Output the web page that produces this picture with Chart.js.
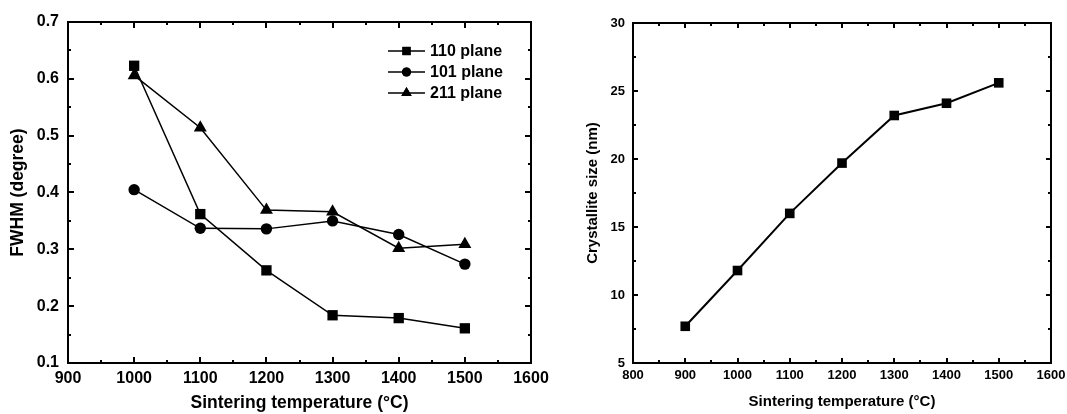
<!DOCTYPE html>
<html>
<head>
<meta charset="utf-8">
<script src="https://cdn.jsdelivr.net/npm/chart.js@4"></script>
<style>
html, body { margin: 0; padding: 0; background: #fff; }
#wrap { position: relative; width: 1067px; height: 414px; overflow: hidden; }
canvas { position: absolute; top: 0; }
</style>
</head>
<body>
<div id="wrap">
  <canvas id="fwhm" width="570" height="414" style="left:0"></canvas>
  <canvas id="size" width="527" height="414" style="left:540px"></canvas>
</div>
<script>
// left panel: FWHM vs sintering temperature
const temps = [1000, 1100, 1200, 1300, 1400, 1500];
const fwhm110 = [0.623, 0.362, 0.263, 0.184, 0.179, 0.161];
const fwhm101 = [0.405, 0.337, 0.336, 0.350, 0.326, 0.274];
const fwhm211 = [0.606, 0.514, 0.369, 0.366, 0.302, 0.309];
const planeNames = ['110 plane', '101 plane', '211 plane'];
const planeMarks = ['rect', 'circle', 'triangle'];

// right panel: crystallite size vs sintering temperature
const sizeTemps = [900, 1000, 1100, 1200, 1300, 1400, 1500];
const crystalliteSize = [7.7, 11.8, 16.0, 19.7, 23.2, 24.1, 25.6];

const FONT = '"Liberation Sans", Arial, sans-serif';

const toPts = (xs, ys) => xs.map((x, i) => ({x: x, y: ys[i]}));

// box round the plot with inward major + minor ticks on all four sides
const frameTicks = {
  id: 'frameTicks',
  afterDraw(chart, args, o) {
    const {ctx, chartArea: a, scales: {x, y}} = chart;
    ctx.save();
    ctx.strokeStyle = '#000';
    ctx.lineWidth = o.width;
    ctx.lineCap = 'butt';
    const minors = (sc) => {
      const t = sc.ticks.map(k => k.value), m = [];
      for (let i = 0; i < t.length - 1; i++) m.push((t[i] + t[i + 1]) / 2);
      return m;
    };
    ctx.beginPath();
    const xt = (v, len) => {
      const px = Math.round(x.getPixelForValue(v));
      ctx.moveTo(px, a.bottom); ctx.lineTo(px, a.bottom - len);
      ctx.moveTo(px, a.top); ctx.lineTo(px, a.top + len);
    };
    const yt = (v, len) => {
      const py = Math.round(y.getPixelForValue(v));
      ctx.moveTo(a.left, py); ctx.lineTo(a.left + len, py);
      ctx.moveTo(a.right, py); ctx.lineTo(a.right - len, py);
    };
    x.ticks.forEach(k => xt(k.value, o.major));
    minors(x).forEach(v => xt(v, o.minor));
    y.ticks.forEach(k => yt(k.value, o.major));
    minors(y).forEach(v => yt(v, o.minor));
    ctx.stroke();
    ctx.strokeRect(a.left, a.top, a.right - a.left, a.bottom - a.top);
    ctx.restore();
  }
};

// legend drawn inside the plot, line with marker in the middle
const innerLegend = {
  id: 'innerLegend',
  afterDraw(chart, args, o) {
    if (!o.show) return;
    const ctx = chart.ctx;
    ctx.save();
    chart.data.datasets.forEach((ds, i) => {
      const yy = o.y + i * o.gap;
      ctx.strokeStyle = '#000';
      ctx.lineWidth = 1.5;
      ctx.beginPath();
      ctx.moveTo(o.x, yy); ctx.lineTo(o.x + o.len, yy);
      ctx.stroke();
      ctx.fillStyle = '#000';
      Chart.helpers.drawPoint(ctx, {pointStyle: ds.pointStyle, radius: ds.pointRadius * 0.8, borderWidth: 0}, o.x + o.len / 2, yy);
      ctx.fill();
      ctx.font = 'bold 16px ' + FONT;
      ctx.textBaseline = 'middle';
      ctx.fillText(ds.label, o.x + o.len + 5, yy + 1);
    });
    ctx.restore();
  }
};

function makeChart(id, cfg) {
  const ax = (min, max, step, fmt, size) => ({
    type: 'linear', min: min, max: max,
    grid: {display: false, drawTicks: false},
    border: {display: false},
    ticks: {stepSize: step, color: '#000', font: {family: FONT, weight: 'bold', size: size}, callback: fmt}
  });
  const xs = ax(cfg.x[0], cfg.x[1], cfg.x[2], v => String(v), cfg.tickSize);
  xs.position = 'bottom';
  xs.ticks.padding = cfg.xPad;
  xs.ticks.maxRotation = 0;
  // fixed band for the axis; edge labels may hang past the plot box
  xs.afterFit = s => { s.height = cfg.xh; s.paddingLeft = 0; s.paddingRight = 0; };
  xs.title = {display: true, text: 'Sintering temperature (°C)', color: '#000',
    font: {family: FONT, weight: 'bold', size: cfg.titleSize}, padding: {top: 0, bottom: cfg.xTitlePad}};
  const ys = ax(cfg.y[0], cfg.y[1], cfg.y[2], cfg.yFmt, cfg.tickSize);
  ys.ticks.padding = cfg.yPad;
  ys.afterFit = s => { s.width = cfg.yw; s.paddingTop = 0; s.paddingBottom = 0; };
  ys.title = {display: true, text: cfg.yTitle, color: '#000',
    font: {family: FONT, weight: 'bold', size: cfg.titleSize}, padding: {top: cfg.yTitlePad, bottom: 0}};

  return new Chart(document.getElementById(id), {
    type: 'line',
    data: {datasets: cfg.datasets},
    options: {
      responsive: false,
      animation: false,
      layout: {padding: {top: cfg.top, right: cfg.right, left: 0, bottom: 0}},
      scales: {x: xs, y: ys},
      plugins: {
        legend: {display: false},
        tooltip: {enabled: false},
        frameTicks: cfg.frame,
        innerLegend: cfg.legend || {show: false}
      }
    },
    plugins: [frameTicks, innerLegend]
  });
}

const lineSet = (label, pts, mark, r, w) => ({
  label: label, data: pts,
  borderColor: '#000', borderWidth: w,
  backgroundColor: '#000',
  pointStyle: mark, pointRadius: r, pointBorderWidth: 0,
  pointBackgroundColor: '#000', tension: 0
});

makeChart('fwhm', {
  x: [900, 1600, 100], y: [0.1, 0.7, 0.1],
  yFmt: v => v.toFixed(1),
  yTitle: 'FWHM (degree)',
  tickSize: 16, titleSize: 17.5,
  xh: 51, yw: 68, top: 22, right: 39,
  xPad: 6, yPad: 9, xTitlePad: 0, yTitlePad: 8,
  frame: {width: 2, major: 6, minor: 3},
  legend: {show: true, x: 388, y: 51, gap: 21, len: 37},
  datasets: [
    lineSet(planeNames[0], toPts(temps, fwhm110), planeMarks[0], 7.3, 1.5),
    lineSet(planeNames[1], toPts(temps, fwhm101), planeMarks[1], 5.7, 1.5),
    lineSet(planeNames[2], toPts(temps, fwhm211), planeMarks[2], 7.5, 1.5)
  ]
});

makeChart('size', {
  x: [800, 1600, 100], y: [5, 30, 5],
  yFmt: v => String(v),
  yTitle: 'Crystallite size (nm)',
  tickSize: 13, titleSize: 15,
  xh: 51, yw: 93, top: 23, right: 16,
  xPad: 5, yPad: 8, xTitlePad: 3, yTitlePad: 44,
  frame: {width: 2, major: 5, minor: 3},
  datasets: [
    lineSet('size', toPts(sizeTemps, crystalliteSize), 'rect', 6.8, 2)
  ]
});
</script>
</body>
</html>
